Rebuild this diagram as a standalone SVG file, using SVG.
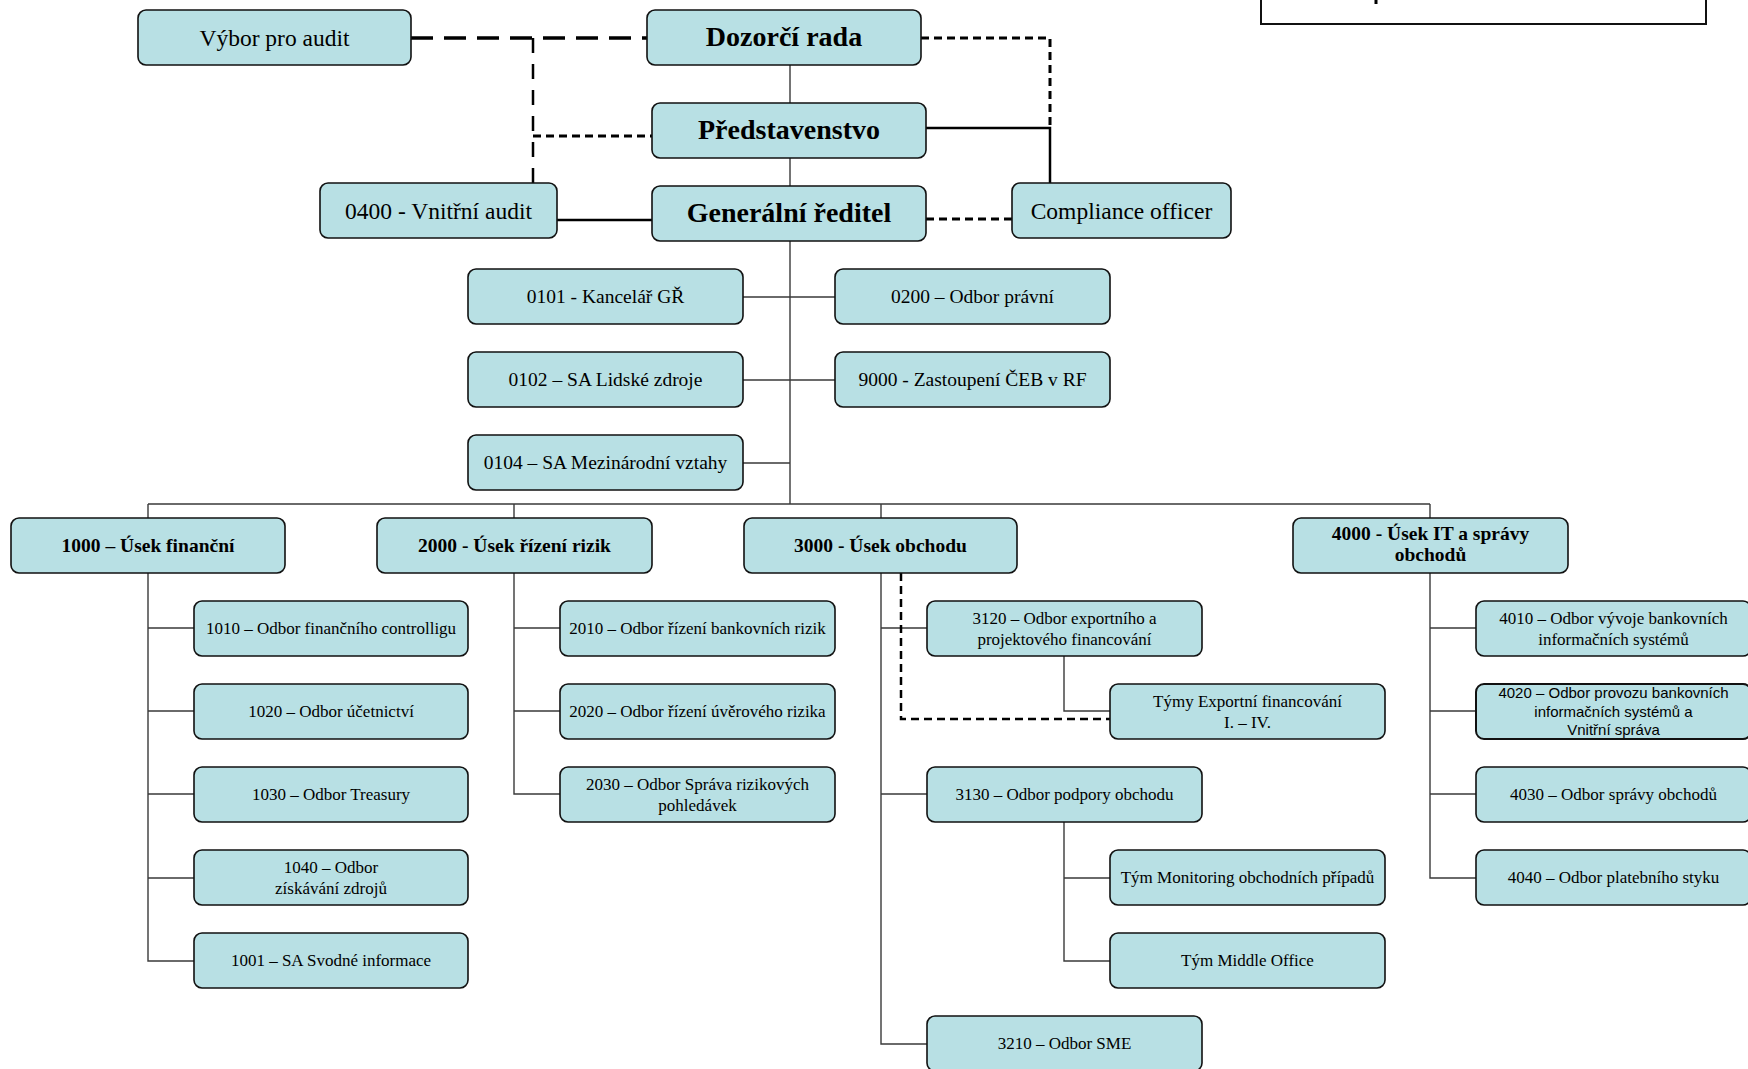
<svg xmlns="http://www.w3.org/2000/svg" width="1748" height="1069" viewBox="0 0 1748 1069">
<style>
.n rect{fill:#b8e0e4;stroke:#111;stroke-width:1.6}
text{font-family:"Liberation Serif","Times New Roman",serif;fill:#000;text-anchor:middle}
.t1{font-size:28px;font-weight:bold}
.t2{font-size:23.5px}
.t3{font-size:19.5px}
.t3b{font-size:19.5px;font-weight:bold}
.t4{font-size:17px}
.sans{font-family:"Liberation Sans",Arial,sans-serif;font-size:15px}
.c{fill:none;stroke:#3a3a3a;stroke-width:1.4}
.s{fill:none;stroke:#000;stroke-width:2.5}
.dl{fill:none;stroke:#000;stroke-width:3.5;stroke-dasharray:22 11}
.dv{fill:none;stroke:#000;stroke-width:2.5;stroke-dasharray:15 11}
.ds{fill:none;stroke:#000;stroke-width:3;stroke-dasharray:8 5}
.ds2{fill:none;stroke:#000;stroke-width:2.5;stroke-dasharray:8 5}
</style>
<rect width="1748" height="1069" fill="#fff"/>
<g id="legend">
<rect x="1261" y="-10" width="445" height="34" fill="#fff" stroke="#111" stroke-width="2"/>
<line x1="1376" y1="0" x2="1376" y2="4" stroke="#000" stroke-width="3"/>
</g>
<g id="connectors">
<path class="c" d="M790 65V103M790 158V186M790 241V504M743 297H835M743 380H835M743 463H790"/>
<path class="c" d="M148 504H1430M148 504V518M514 504V518M881 504V518M1430 504V518"/>
<path class="c" d="M148 573V961H194M148 628H194M148 711H194M148 794H194M148 878H194"/>
<path class="c" d="M514 573V794H560M514 628H560M514 711H560"/>
<path class="c" d="M881 573V1044H927M881 628H927M881 794H927"/>
<path class="c" d="M1064 656V711H1110M1064 822V961H1110M1064 878H1110"/>
<path class="c" d="M1430 573V878H1476M1430 628H1476M1430 711H1476M1430 794H1476"/>
<path class="s" d="M557 220H652"/>
<path class="s" d="M926 128H1050V183" stroke-width="2.2"/>
<path class="dl" d="M411 38H647"/>
<path class="dv" d="M533 38V183"/>
<path class="ds" d="M533 136H652"/>
<path class="ds" d="M921 38H1050V128"/>
<path class="ds" d="M926 219H1012"/>
<path class="ds2" d="M901 573V719H1110"/>
</g>
<g id="vybor" class="n"><rect x="138" y="10" width="273" height="55" rx="8"/><text class="t2" x="274.5" y="45.5">Výbor pro audit</text></g>
<g id="dozorci" class="n"><rect x="647" y="10" width="274" height="55" rx="8"/><text class="t1" x="784" y="46">Dozorčí rada</text></g>
<g id="predstavenstvo" class="n"><rect x="652" y="103" width="274" height="55" rx="8"/><text class="t1" x="789" y="139">Představenstvo</text></g>
<g id="gr" class="n"><rect x="652" y="186" width="274" height="55" rx="8"/><text class="t1" x="789" y="222">Generální ředitel</text></g>
<g id="audit0400" class="n"><rect x="320" y="183" width="237" height="55" rx="8"/><text class="t2" x="438.5" y="218.5">0400 - Vnitřní audit</text></g>
<g id="compliance" class="n"><rect x="1012" y="183" width="219" height="55" rx="8"/><text class="t2" x="1121.5" y="218.5">Compliance officer</text></g>
<g id="n0101" class="n"><rect x="468" y="269" width="275" height="55" rx="8"/><text class="t3" x="605.5" y="303">0101 - Kancelář GŘ</text></g>
<g id="n0200" class="n"><rect x="835" y="269" width="275" height="55" rx="8"/><text class="t3" x="972.5" y="303">0200 – Odbor právní</text></g>
<g id="n0102" class="n"><rect x="468" y="352" width="275" height="55" rx="8"/><text class="t3" x="605.5" y="386">0102 – SA Lidské zdroje</text></g>
<g id="n9000" class="n"><rect x="835" y="352" width="275" height="55" rx="8"/><text class="t3" x="972.5" y="386">9000 - Zastoupení ČEB v RF</text></g>
<g id="n0104" class="n"><rect x="468" y="435" width="275" height="55" rx="8"/><text class="t3" x="605.5" y="469">0104 – SA Mezinárodní vztahy</text></g>
<g id="n1000" class="n"><rect x="11" y="518" width="274" height="55" rx="8"/><text class="t3b" x="148" y="552">1000 – Úsek finanční</text></g>
<g id="n2000" class="n"><rect x="377" y="518" width="275" height="55" rx="8"/><text class="t3b" x="514.5" y="552">2000 - Úsek řízení rizik</text></g>
<g id="n3000" class="n"><rect x="744" y="518" width="273" height="55" rx="8"/><text class="t3b" x="880.5" y="552">3000 - Úsek obchodu</text></g>
<g id="n4000" class="n"><rect x="1293" y="518" width="275" height="55" rx="8"/><text class="t3b" x="1430.5" y="540">4000 - Úsek IT a správy</text><text class="t3b" x="1430.5" y="561">obchodů</text></g>
<g id="n1010" class="n"><rect x="194" y="601" width="274" height="55" rx="8"/><text class="t4" x="331" y="634">1010 – Odbor finančního controlligu</text></g>
<g id="n1020" class="n"><rect x="194" y="684" width="274" height="55" rx="8"/><text class="t4" x="331" y="717">1020 – Odbor účetnictví</text></g>
<g id="n1030" class="n"><rect x="194" y="767" width="274" height="55" rx="8"/><text class="t4" x="331" y="800">1030 – Odbor Treasury</text></g>
<g id="n1040" class="n"><rect x="194" y="850" width="274" height="55" rx="8"/><text class="t4" x="331" y="873">1040 – Odbor</text><text class="t4" x="331" y="894">získávání zdrojů</text></g>
<g id="n1001" class="n"><rect x="194" y="933" width="274" height="55" rx="8"/><text class="t4" x="331" y="966">1001 – SA Svodné informace</text></g>
<g id="n2010" class="n"><rect x="560" y="601" width="275" height="55" rx="8"/><text class="t4" x="697.5" y="634">2010 – Odbor řízení bankovních rizik</text></g>
<g id="n2020" class="n"><rect x="560" y="684" width="275" height="55" rx="8"/><text class="t4" x="697.5" y="717">2020 – Odbor řízení úvěrového rizika</text></g>
<g id="n2030" class="n"><rect x="560" y="767" width="275" height="55" rx="8"/><text class="t4" x="697.5" y="790">2030 – Odbor Správa rizikových</text><text class="t4" x="697.5" y="811">pohledávek</text></g>
<g id="n3120" class="n"><rect x="927" y="601" width="275" height="55" rx="8"/><text class="t4" x="1064.5" y="624">3120 – Odbor exportního a</text><text class="t4" x="1064.5" y="645">projektového financování</text></g>
<g id="tymyexport" class="n"><rect x="1110" y="684" width="275" height="55" rx="8"/><text class="t4" x="1247.5" y="707">Týmy Exportní financování</text><text class="t4" x="1247.5" y="728">I. – IV.</text></g>
<g id="n3130" class="n"><rect x="927" y="767" width="275" height="55" rx="8"/><text class="t4" x="1064.5" y="800">3130 – Odbor podpory obchodu</text></g>
<g id="tymmonitoring" class="n"><rect x="1110" y="850" width="275" height="55" rx="8"/><text class="t4" x="1247.5" y="883">Tým Monitoring obchodních případů</text></g>
<g id="tymmiddle" class="n"><rect x="1110" y="933" width="275" height="55" rx="8"/><text class="t4" x="1247.5" y="966">Tým Middle Office</text></g>
<g id="n3210" class="n"><rect x="927" y="1016" width="275" height="55" rx="8"/><text class="t4" x="1064.5" y="1049">3210 – Odbor SME</text></g>
<g id="n4010" class="n"><rect x="1476" y="601" width="275" height="55" rx="8"/><text class="t4" x="1613.5" y="624">4010 – Odbor vývoje bankovních</text><text class="t4" x="1613.5" y="645">informačních systémů</text></g>
<g id="n4020" class="n"><rect x="1476" y="684" width="275" height="55" rx="8" style="stroke-width:2"/><text class="sans" x="1613.5" y="698">4020 – Odbor provozu bankovních</text><text class="sans" x="1613.5" y="716.5">informačních systémů a</text><text class="sans" x="1613.5" y="735">Vnitřní správa</text></g>
<g id="n4030" class="n"><rect x="1476" y="767" width="275" height="55" rx="8"/><text class="t4" x="1613.5" y="800">4030 – Odbor správy obchodů</text></g>
<g id="n4040" class="n"><rect x="1476" y="850" width="275" height="55" rx="8"/><text class="t4" x="1613.5" y="883">4040 – Odbor platebního styku</text></g>
</svg>
